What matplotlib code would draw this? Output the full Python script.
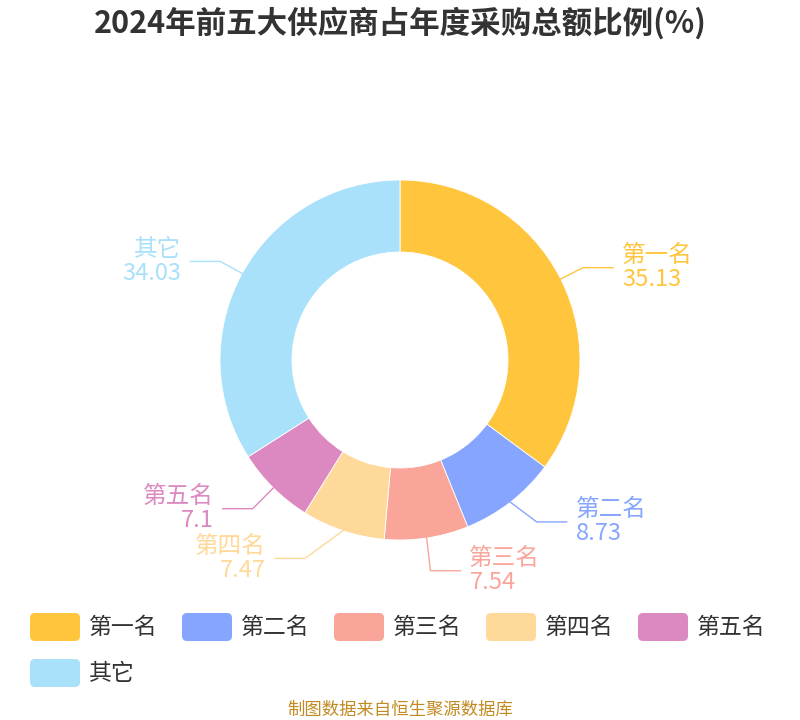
import numpy as np
import matplotlib.pyplot as plt
from matplotlib.patches import FancyBboxPatch

plt.rcParams['font.family'] = ['Noto Sans CJK SC', 'DejaVu Sans']

# 数据
names = ['第一名', '第二名', '第三名', '第四名', '第五名', '其它']
values = [35.13, 8.73, 7.54, 7.47, 7.1, 34.03]
value_labels = ['35.13', '8.73', '7.54', '7.47', '7.1', '34.03']
colors = ['#FFC53D', '#85A5FF', '#F9A59A', '#FFD99A', '#DB89C0', '#A9E0FA']
title = '2024年前五大供应商占年度采购总额比例(%)'
source = '制图数据来自恒生聚源数据库'

# 标签防重叠的微调 (像素)
nudge = {'第二名': (11, 0), '第三名': (0, -8), '第四名': (-30, -4), '第五名': (-3, -3)}

fig = plt.figure(figsize=(8, 7.2), dpi=100)
ax = fig.add_axes([0, 0, 1, 1])

cx, cy, R = 400, 360, 180
ax.pie(values, colors=colors, startangle=90, counterclock=False,
       center=(cx, cy), radius=R, frame=True,
       wedgeprops=dict(width=72, edgecolor='white', linewidth=0.6))
ax.set_xlim(0, 800)
ax.set_ylim(0, 720)
ax.set_aspect('equal')
ax.axis('off')

# 引导线 + 标签
total = sum(values)
cum = 0
for name, v, vl, col in zip(names, values, value_labels, colors):
    mid = cum + v / 2
    cum += v
    th = np.deg2rad(90 - mid / total * 360)
    x0, y0 = cx + R * np.cos(th), cy + R * np.sin(th)
    dx, dy = nudge.get(name, (0, 0))
    x1, y1 = cx + 205 * np.cos(th) + dx, cy + 205 * np.sin(th) + dy
    side = 1 if np.cos(th) >= 0 else -1
    x2 = x1 + side * 30
    ax.plot([x0, x1, x2], [y0, y1, y1], color=col, lw=1.0)
    ha = 'left' if side > 0 else 'right'
    tx = x2 + side * 9
    ax.text(tx, y1 + 12, name, color=col, fontsize=17, ha=ha, va='center')
    ax.text(tx, y1 - 12, vl, color=col, fontsize=17, ha=ha, va='center')

# 标题
ax.text(400, 697, title, fontsize=22, fontweight='bold', color='#333333',
        ha='center', va='center')

# 图例
for i, (name, col) in enumerate(zip(names, colors)):
    row, c = divmod(i, 5)
    bx = 30 + c * 152
    by = 720 - 627 - row * 46
    ax.add_patch(FancyBboxPatch((bx, by - 14), 50, 28,
                                boxstyle='round,pad=0,rounding_size=5',
                                fc=col, ec='none'))
    ax.text(bx + 59, by, name, fontsize=16.5, color='#333333', ha='left', va='center')

# 数据来源
ax.text(400, 10, source, fontsize=12.5, color='#C28A22', ha='center', va='center')

fig.savefig('out.png', dpi=100)
